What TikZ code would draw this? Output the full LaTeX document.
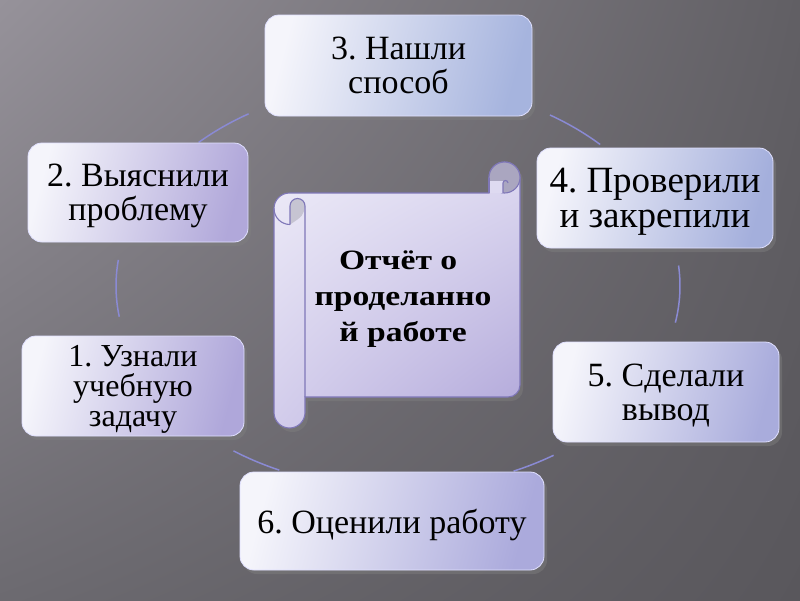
\documentclass[tikz,border=0pt]{standalone}
\usepackage{fontspec}
\setmainfont{Liberation Serif}
\newfontfamily\boxfont{Liberation Serif}
\newfontfamily\ctrfont[FakeStretch=1.2]{Liberation Serif}
\usetikzlibrary{shadows,shadings,fadings}
\definecolor{bgUL}{HTML}{96929A}
\definecolor{bgUR}{HTML}{615F64}
\definecolor{bgLL}{HTML}{6C6A70}
\definecolor{bgLR}{HTML}{59575C}
\definecolor{boxL}{HTML}{F5F5FB}
\definecolor{c1}{HTML}{AFA7DA}
\definecolor{c2}{HTML}{B1A8DA}
\definecolor{c3}{HTML}{A6B4DE}
\definecolor{c4}{HTML}{A4AFDC}
\definecolor{c5}{HTML}{A9ACDC}
\definecolor{c6}{HTML}{ABAADC}
\definecolor{arcC}{HTML}{8A8AD4}
\definecolor{scUL}{HTML}{EEECF8}
\definecolor{scUR}{HTML}{DEDAF1}
\definecolor{scLL}{HTML}{D2CCEB}
\definecolor{scLR}{HTML}{B0A6D9}
\definecolor{scLine}{HTML}{7F77B8}
\definecolor{curlL}{HTML}{C6C4D2}
\definecolor{curlD}{HTML}{AAA6C0}
\tikzfading[name=softband, left color=transparent!100, middle color=transparent!0, right color=transparent!100]
\tikzset{
  box/.style={draw=white!88!blue, line width=0.8pt, rounded corners=14pt,
    left color=boxL, shading angle=75, align=center, inner sep=2pt,
    text depth=0pt, font=\boxfont\frenchspacing\fontsize{34}{34}\selectfont,
    drop shadow={shadow xshift=3pt, shadow yshift=-4pt, opacity=0.45}},
  cyc/.style={draw=arcC, line width=1.5pt},
  scline/.style={draw=scLine, line width=1.1pt},
  ctr/.style={align=center, text depth=0pt,
    font=\ctrfont\bfseries\fontsize{28}{36}\selectfont}
}
\begin{document}
\begin{tikzpicture}[x=1pt,y=-1pt]
\useasboundingbox (0,0) rectangle (800,600);
% background
\shade[upper left=bgUL, upper right=bgUR, lower left=bgLL, lower right=bgLR] (0,0) rectangle (800,600);
\fill[white, opacity=0.24, path fading=softband, fading angle=45] (-250,-50) rectangle (450,650);

% cycle arcs
\coordinate (E) at (398,286);
\draw[cyc] (E) ++(225:282 and 203) arc[start angle=225, end angle=238, x radius=282, y radius=203];
\draw[cyc] (E) ++(302.6:282 and 203) arc[start angle=302.6, end angle=315.8, x radius=282, y radius=203];
\draw[cyc] (E) ++(-5.8:282 and 203) arc[start angle=-5.8, end angle=10.4, x radius=282, y radius=203];
\draw[cyc] (E) ++(56.5:282 and 203) arc[start angle=56.5, end angle=65.8, x radius=282, y radius=203];
\draw[cyc] (E) ++(114.9:282 and 203) arc[start angle=114.9, end angle=125.7, x radius=282, y radius=203];
\draw[cyc] (E) ++(171.3:282 and 203) arc[start angle=171.3, end angle=187.4, x radius=282, y radius=203];

% boxes
\node[box, right color=c3, shading angle=75, minimum width=267pt, minimum height=101pt] (b3) at (398.5,65.5) {3. Нашли\\способ};
\node[box, right color=c2, shading angle=75, minimum width=220pt, minimum height=99pt] (b2) at (138,192.5) {2. Выяснили\\проблему};
\node[box, right color=c4, shading angle=75, minimum width=236pt, minimum height=100pt, font=\boxfont\frenchspacing\fontsize{37}{35}\selectfont] (b4) at (655,198) {4. Проверили\\и закрепили};
\node[box, right color=c1, shading angle=75, minimum width=222pt, minimum height=100pt, font=\boxfont\frenchspacing\fontsize{32}{30}\selectfont] (b1) at (133,386) {1. Узнали\\учебную\\задачу};
\node[box, right color=c5, shading angle=75, minimum width=226pt, minimum height=100pt] (b5) at (666,392) {5. Сделали\\вывод};
\node[box, right color=c6, shading angle=75, minimum width=304pt, minimum height=98pt] (b6) at (392,521) {6. Оценили работу};

% scroll body
\path[scline, upper left=scUL, upper right=scUR, lower left=scLL, lower right=scLR,
  drop shadow={shadow xshift=3pt, shadow yshift=-4pt, opacity=0.45}]
  (274,208.5) arc[start angle=180, end angle=270, radius=15.5]
  -- (489,193) -- (489,177.5) arc[start angle=180, end angle=360, radius=15.5]
  -- (520,385) arc[start angle=0, end angle=90, radius=12]
  -- (305,397) -- (305,412.5) arc[start angle=0, end angle=180, radius=15.5]
  -- cycle;
% top-left curl
\fill[curlL] (290,224.5) -- (290,206) arc[start angle=180, end angle=360, radius=7.5]
  .. controls (303,216) .. (290,224.5) -- cycle;
\draw[scline] (290,224.5) -- (290,206) arc[start angle=180, end angle=360, radius=7.5] -- (305,397);
\draw[scline] (274,208.5) arc[start angle=180, end angle=90, radius=16];
% top-right curl
\filldraw[scline, fill=curlD] (504.5,177.5) circle[radius=15.5];
\fill[scUR] (489,181) rectangle (503,193);
\draw[scline] (489,177.5) -- (489,193);
\draw[scline] (503,193) -- (503,183) arc[start angle=180, end angle=360, radius=2.5];

\node[ctr] (ctr) at (403,296) {Отчёт о\kern0.35em\\проделанно\\й работе};
\end{tikzpicture}
\end{document}
